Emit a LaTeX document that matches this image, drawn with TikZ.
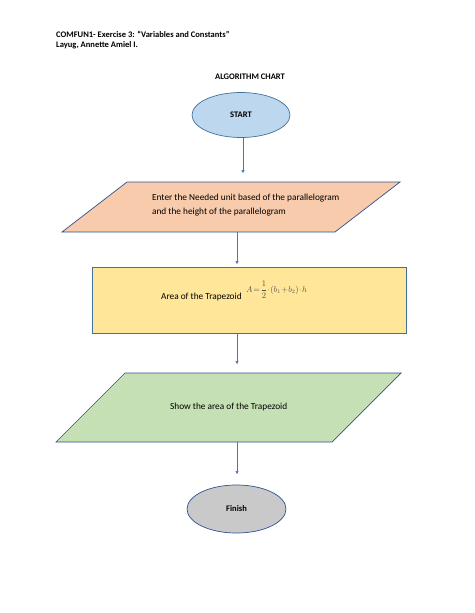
\documentclass[tikz,border=0pt]{standalone}
\usepackage{fontspec}
\setmainfont{Carlito}
\usepackage{amsmath}
\usetikzlibrary{shapes.geometric,arrows.meta}
\definecolor{startblue}{HTML}{BDD7EE}
\definecolor{inorange}{HTML}{F8CBAD}
\definecolor{procyellow}{HTML}{FFE699}
\definecolor{outgreen}{HTML}{C5E0B4}
\definecolor{endgray}{HTML}{C9C9C9}
\definecolor{edgeblue}{HTML}{2F528F}
\definecolor{edgesoft}{HTML}{41719C}
\definecolor{arrowblue}{HTML}{4472C4}
\definecolor{formulagray}{HTML}{505050}
\begin{document}
\begin{tikzpicture}[x=1.2911pt,y=-1.2911pt,
  font=\fontsize{12}{14.6}\selectfont,
  hdr/.style={inner sep=0pt,anchor=base west,font=\fontsize{11}{13.4}\selectfont\bfseries},
  term/.style={ellipse,draw=edgeblue,line width=0.9pt,inner sep=0pt,font=\fontsize{11}{13.4}\selectfont\bfseries},
  shapeedge/.style={draw=edgeblue,line width=0.9pt,line join=miter},
  flow/.style={draw=arrowblue,line width=0.6pt,-{Triangle[width=3.8pt,length=3.8pt]}},
  txt/.style={inner sep=0pt,anchor=base west}]
\useasboundingbox (0,0) rectangle (474,613);
\fill[white] (0,0) rectangle (474,613);
% header
\node[hdr] (h1) at (56,37.5) {COMFUN1- Exercise 3: “Variables and Constants”};
\node[hdr] (h2) at (56,48) {Layug, Annette Amiel I.};
\node[inner sep=0pt,anchor=base,font=\fontsize{11}{13.4}\selectfont\bfseries] (title) at (250,80) {ALGORITHM CHART};
% start
\node[term,fill=startblue,draw=edgesoft,minimum width=126.5pt,minimum height=58.1pt] (start) at (241,115) {START};
% input parallelogram
\draw[shapeedge,fill=inorange] (127,182) -- (400,182) -- (335,232) -- (62,232) -- cycle;
\node[txt] (in1) at (152,200) {Enter the Needed unit based of the parallelogram};
\node[txt] (in2) at (152,214) {and the height of the parallelogram};
% process
\node[rectangle,draw=edgesoft,line width=0.9pt,fill=procyellow,minimum width=405.4pt,minimum height=85.2pt,inner sep=0pt] (proc) at (249,300) {};
\node[txt] (ptext) at (161,299) {Area of the Trapezoid};
\node[inner sep=0pt,anchor=west,text=formulagray,font=\fontsize{10.5}{12}\selectfont] (formula) at (246,290) {$A\!=\!\dfrac{1}{2}\!\cdot\!\left(b_1\!+\!b_2\right)\!\cdot\! h$};
% output parallelogram
\draw[shapeedge,fill=outgreen] (125,373) -- (401,373) -- (332,442) -- (56,442) -- cycle;
\node[txt] (out) at (170,409) {Show the area of the Trapezoid};
% finish
\node[term,fill=endgray,minimum width=127.8pt,minimum height=62pt] (finish) at (236.5,509) {Finish};
% connector coordinates
\coordinate (a1s) at (243,137.5);
\coordinate (a1e) at (243,173);
\coordinate (a2s) at (237,232);
\coordinate (a2e) at (237,264);
\coordinate (a3s) at (237,333);
\coordinate (a3e) at (237,364);
\coordinate (a4s) at (237,442);
\coordinate (a4e) at (237,474);
\draw[flow] (a1s) -- (a1e);
\draw[flow] (a2s) -- (a2e);
\draw[flow] (a3s) -- (a3e);
\draw[flow] (a4s) -- (a4e);
\end{tikzpicture}
\end{document}
